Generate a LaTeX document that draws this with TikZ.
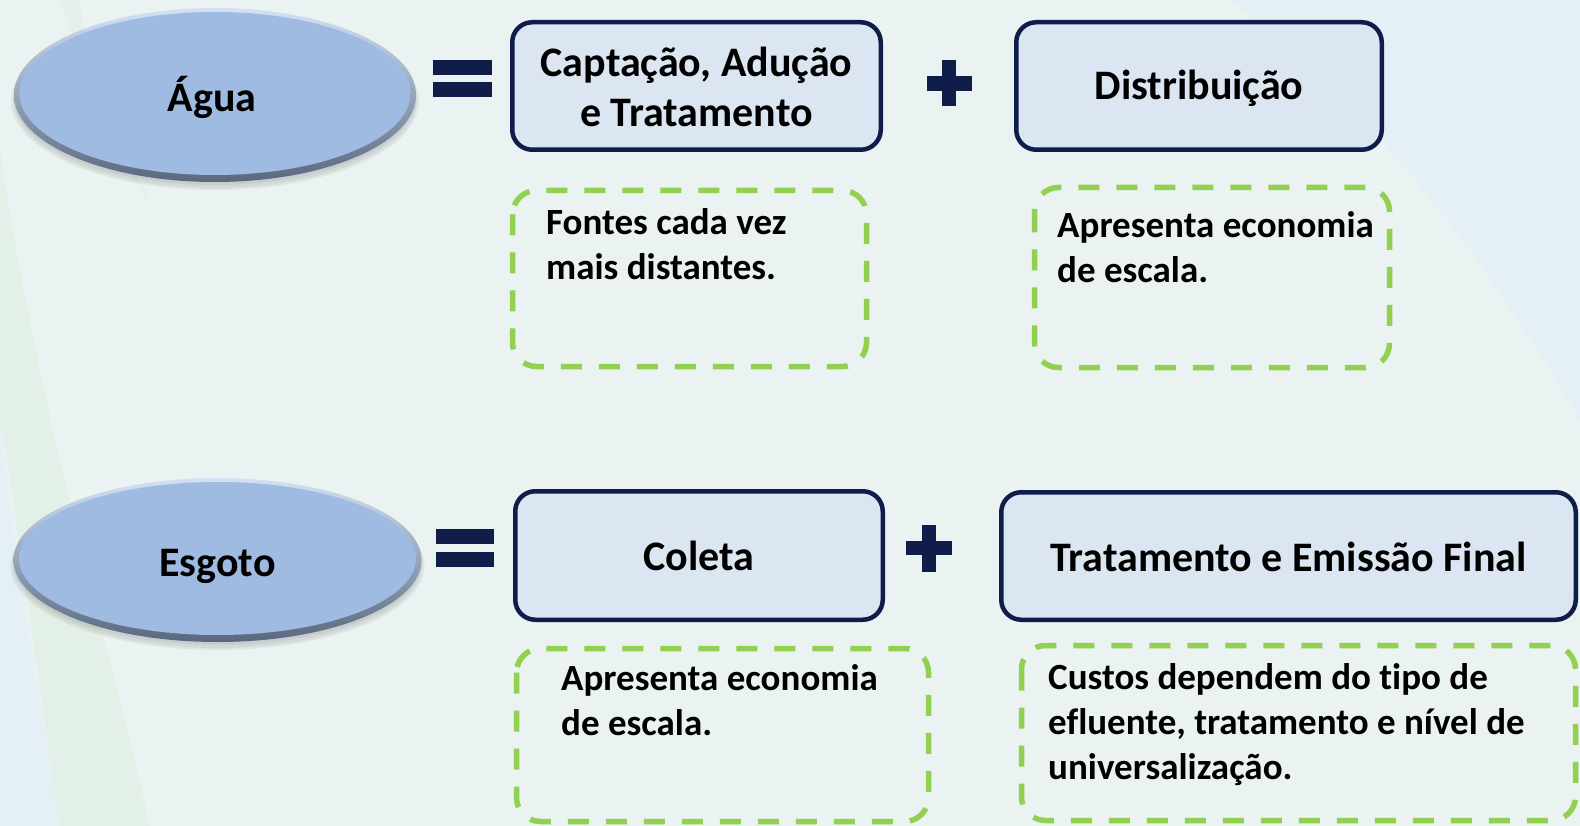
\documentclass[tikz,border=0pt]{standalone}
\usepackage{fontspec}
\setmainfont{Carlito}[Ligatures=NoCommon]
\usetikzlibrary{shapes.geometric}
\definecolor{bg}{HTML}{EAF3F2}
\definecolor{bgblue}{HTML}{E5F0F6}
\definecolor{bggreen}{HTML}{E3F0E7}
\definecolor{navy}{HTML}{101D4A}
\definecolor{boxfill}{HTML}{DCE6F2}
\definecolor{dgreen}{HTML}{92D050}
\definecolor{ellface}{HTML}{9FBBE1}
\definecolor{rimtop}{HTML}{D2E2F4}
\definecolor{rimbot}{HTML}{5A687F}
\begin{document}
\begin{tikzpicture}[x=1pt,y=-1pt,
  solidbox/.style={draw=navy, line width=4.5pt, fill=boxfill, rounded corners=20pt, inner sep=0pt,
    font=\bfseries\fontsize{42}{50}\selectfont, align=center, text height=27pt, text depth=0pt},
  dashbox/.style={draw=dgreen, line width=5.5pt, rounded corners=24pt, dash pattern=on 21pt off 17pt},
  note/.style={font=\bfseries\fontsize{37}{45}\selectfont, align=left, inner sep=0pt, anchor=base west},
  ovallbl/.style={ellipse, inner sep=0pt, font=\bfseries\fontsize{42}{50}\selectfont, text height=27pt, text depth=0pt},
  sym/.style={fill=navy},
  shadowlayer/.style={fill=black, opacity=.05}
]
% background
\useasboundingbox (0,0) rectangle (1580,826);
\fill[bg] (0,0) rectangle (1580,826);
\fill[bgblue] (1230,0) -- (1580,0) -- (1580,420) .. controls (1480,250) and (1380,120) .. cycle;
\fill[bggreen] (0,150) .. controls (40,420) and (110,650) .. (150,826) -- (60,826) .. controls (40,700) and (15,500) .. (0,420) -- cycle;
\fill[bgblue] (0,420) .. controls (15,560) and (40,700) .. (60,826) -- (0,826) -- cycle;
\fill[bggreen, opacity=.7] (60,0) .. controls (90,90) and (130,170) .. (160,215) .. controls (120,170) and (90,100) .. (80,0) -- cycle;

% ellipse decorations (Água)
\fill[shadowlayer] (215,101) ellipse [x radius=204pt, y radius=89pt];
\fill[shadowlayer] (215,100) ellipse [x radius=202pt, y radius=88pt];
\fill[shadowlayer] (215,98) ellipse [x radius=201pt, y radius=87pt];
\shade[top color=rimtop, bottom color=rimbot] (215,95) ellipse [x radius=201pt, y radius=87pt];
\fill[ellface] (215,93.5) ellipse [x radius=195.5pt, y radius=81.5pt];
% ellipse decorations (Esgoto)
\fill[shadowlayer] (217.5,566) ellipse [x radius=207pt, y radius=84pt];
\fill[shadowlayer] (217.5,565) ellipse [x radius=205pt, y radius=83pt];
\fill[shadowlayer] (217.5,563) ellipse [x radius=204pt, y radius=82pt];
\shade[top color=rimtop, bottom color=rimbot] (217.5,560) ellipse [x radius=204pt, y radius=82pt];
\fill[ellface] (217.5,558.5) ellipse [x radius=198.5pt, y radius=76.5pt];

\node[ovallbl, minimum width=402pt, minimum height=174pt] (agua) at (212,98) {Água};
\node[ovallbl, minimum width=408pt, minimum height=164pt] (esgoto) at (217.5,563) {Esgoto};

% equals and plus signs
\fill[sym] (433,60) rectangle (492,75);
\fill[sym] (433,82) rectangle (492,97);
\fill[sym] (436,529) rectangle (494,544);
\fill[sym] (436,552) rectangle (494,567);
\fill[sym] (927,76) rectangle (972,91);
\fill[sym] (942,60) rectangle (956,106);
\fill[sym] (906,541) rectangle (952,555);
\fill[sym] (922,525) rectangle (936,572);

% solid boxes
\node[solidbox, minimum width=368.5pt, minimum height=127.5pt, text height=81pt] (b1) at (696.5,86) {Captação, Adução\\e Tratamento};
\node[solidbox, minimum width=365.5pt, minimum height=127.5pt] (b2) at (1199,86) {Distribuição};
\node[solidbox, minimum width=367.5pt, minimum height=128.5pt, text height=29pt] (b3) at (699,555.5) {Coleta};
\node[solidbox, minimum width=574.5pt, minimum height=127.5pt, text height=31pt] (b4) at (1288.5,556) {Tratamento e Emissão Final};

% dashed boxes
\draw[dashbox] (512.5,190.5) rectangle (866.5,366.5);
\draw[dashbox] (1034.5,187.5) rectangle (1389.5,367.5);
\draw[dashbox] (516.5,648.5) rectangle (928.5,821.5);
\draw[dashbox] (1021.5,645.5) rectangle (1575.5,820.5);

\node[note] (n1) at (546,280) {Fontes cada vez\\mais distantes.};
\node[note] (n2) at (1057,283) {Apresenta economia\\de escala.};
\node[note] (n3) at (561,735) {Apresenta economia\\de escala.};
\node[note] (n4) at (1048,779) {Custos dependem do tipo de\\efluente, tratamento e nível de\\universalização.};
\end{tikzpicture}
\end{document}
